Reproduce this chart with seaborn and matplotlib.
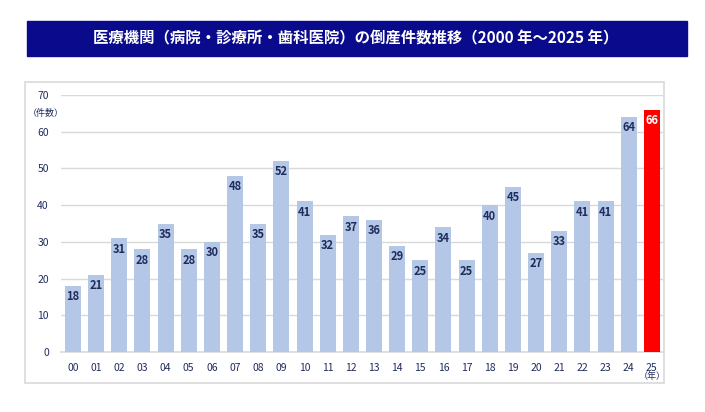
import matplotlib
matplotlib.use("Agg")
import matplotlib.pyplot as plt
import seaborn as sns
import pandas as pd
from matplotlib.patches import Rectangle

# データ
years = ['00', '01', '02', '03', '04', '05', '06', '07', '08', '09', '10', '11', '12',
         '13', '14', '15', '16', '17', '18', '19', '20', '21', '22', '23', '24', '25']
counts = [18, 21, 31, 28, 35, 28, 30, 48, 35, 52, 41, 32, 37,
          36, 29, 25, 34, 25, 40, 45, 27, 33, 41, 41, 64, 66]
title = '医療機関（病院・診療所・歯科医院）の倒産件数推移（2000 年～2025 年）'

df = pd.DataFrame({'year': years, 'count': counts})
df['hl'] = ['y' if y == '25' else 'n' for y in years]

sns.set_theme(style='white')
plt.rcParams['font.family'] = ['Noto Sans CJK JP', 'DejaVu Sans']

navy = '#1f2d5c'
fig = plt.figure(figsize=(7.05, 4.12), dpi=100)

# タイトル帯
fig.patches.append(Rectangle((27 / 705, 1 - 56 / 412), 660 / 705, 35 / 412,
                             transform=fig.transFigure, color='#0a0a8c', zorder=0))
fig.text(356 / 705, 1 - 38.5 / 412, title, color='white', fontsize=11.1,
         fontweight='bold', ha='center', va='center')

# グラフ枠
fig.patches.append(Rectangle((25 / 705, 1 - 383 / 412), 639 / 705, 301 / 412,
                             transform=fig.transFigure, facecolor='none',
                             edgecolor='#d9d9d9', linewidth=1.2, zorder=0))

ax = fig.add_axes([61.4 / 705, 1 - 352 / 412, 602 / 705, 257 / 412])
sns.barplot(data=df, x='year', y='count', hue='hl',
            palette={'n': '#b4c7e7', 'y': '#ff0000'}, dodge=False, saturation=1,
            width=0.69, linewidth=0, legend=False, ax=ax, zorder=3)

ax.set_ylim(0, 70)
ax.set_xlim(-0.5, 25.5)
ax.set_yticks(range(0, 71, 10))
ax.yaxis.grid(True, color='#d9d9d9', linewidth=1, zorder=0)
ax.set_axisbelow(True)
for s in ['top', 'right', 'left']:
    ax.spines[s].set_visible(False)
ax.spines['bottom'].set_color('#d9d9d9')
ax.spines['bottom'].set_linewidth(1.2)
ax.tick_params(axis='both', length=0, labelsize=7.5, labelcolor=navy)
ax.tick_params(axis='x', pad=8)
ax.tick_params(axis='y', pad=9)
ax.set_xlabel('')
ax.set_ylabel('')

# 値ラベル
for i, v in enumerate(counts):
    c = 'white' if years[i] == '25' else navy
    ax.text(i, v - 1.2, str(v), ha='center', va='top', fontsize=8,
            fontweight='bold', color=c, zorder=4)

ax.text(-0.026, 0.93, '（件数）', transform=ax.transAxes,
        fontsize=6.5, color=navy, ha='center', va='center')
ax.text(25, -0.095, '（年）', transform=ax.get_xaxis_transform(),
        fontsize=6.5, color=navy, ha='center', va='center')

fig.savefig('out.png', dpi=100)
